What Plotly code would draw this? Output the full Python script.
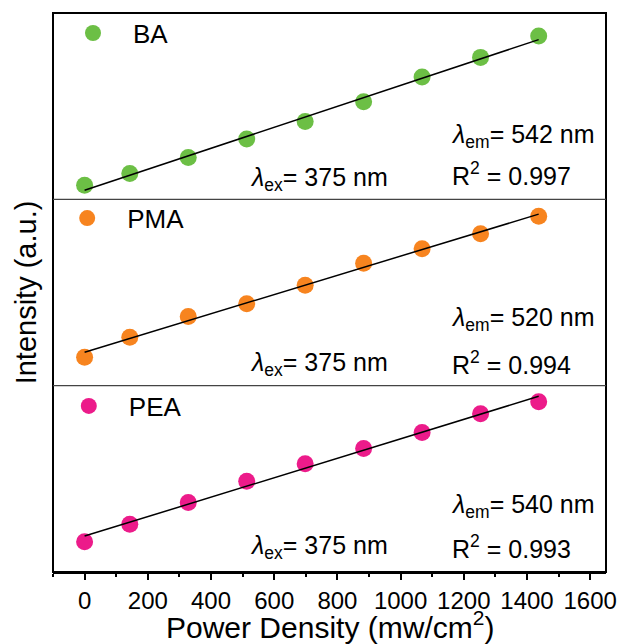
import numpy as np
import plotly.graph_objects as go
from plotly.subplots import make_subplots

# ---------------- data ----------------
power_density = [0, 143, 328, 513, 698, 883, 1068, 1253, 1437]
intensity_BA = [14, 25.7, 41.7, 60.3, 77.7, 97.3, 122, 141.7, 163]
intensity_PMA = [28.3, 48.3, 69, 81.7, 100.3, 122.3, 136.7, 151.7, 169]
intensity_PEA = [30.3, 47.7, 69.3, 90.7, 108, 123.3, 139.3, 158, 170]
series_names = ["BA", "PMA", "PEA"]
series_colors = ["#6cbf45", "#f7841f", "#ec1b8a"]
lambda_em = [542, 520, 540]
lambda_ex = [375, 375, 375]
r_squared = ["0.997", "0.994", "0.993"]
x_ticks = [0, 200, 400, 600, 800, 1000, 1200, 1400, 1600]
x_title = "Power Density (mw/cm<sup>2</sup>)"
y_title = "Intensity (a.u.)"

series = [intensity_BA, intensity_PMA, intensity_PEA]
FONT = "Liberation Sans, Arial, sans-serif"

fig = make_subplots(rows=3, cols=1, shared_xaxes=True, vertical_spacing=0)

legend_names = ["legend", "legend2", "legend3"]
legend_y = [0.964, 0.633, 0.297]
legend_x = [0.0, -0.0105, -0.0076]
for i, (name, vals, col) in enumerate(zip(series_names, series, series_colors)):
    r = i + 1
    fig.add_trace(go.Scatter(x=power_density, y=vals, mode="markers", name=name,
                             marker=dict(color=col, size=17, line=dict(width=0)),
                             legend=legend_names[i], showlegend=True), row=r, col=1)
    k, b = np.polyfit(power_density, vals, 1)
    xf = [power_density[0], power_density[-1]]
    yf = [k * xv + b for xv in xf]
    fig.add_trace(go.Scatter(x=xf, y=yf, mode="lines", line=dict(color="black", width=1.5),
                             showlegend=False, hoverinfo="skip"), row=r, col=1)

# legends
for i, ln in enumerate(legend_names):
    fig.update_layout(**{ln: dict(x=legend_x[i], xanchor="left", y=legend_y[i], yanchor="middle",
                                   bgcolor="rgba(0,0,0,0)", borderwidth=0, itemwidth=70,
                                   font=dict(family=FONT, size=26, color="black"))})

# y axes
for r in (1, 2, 3):
    fig.update_yaxes(range=[0, 186], showticklabels=False, ticks="", showgrid=False,
                     zeroline=False, showline=False, row=r, col=1)

fig.update_xaxes(range=[-100, 1650], showgrid=False, zeroline=False, showline=False)
fig.update_xaxes(row=3, col=1, ticks="outside", ticklen=6, tickwidth=2, tickcolor="black",
                 tickvals=x_ticks, ticktext=[str(t) for t in x_ticks],
                 tickfont=dict(family=FONT, size=24, color="black"),
                 minor=dict(ticks="outside", ticklen=3, tickwidth=2, tickcolor="black", dtick=100, tick0=0),
                 showline=True, linecolor="black", linewidth=2, automargin=True)
fig.update_yaxes(row=2, col=1, automargin=True,
                 title=dict(text=y_title, standoff=6,
                            font=dict(family=FONT, size=29, color="black")))

# x-axis title (placed as paper annotation for exact positioning)
fig.add_annotation(x=0.5, y=-0.095, xref="paper", yref="paper", xanchor="center", yanchor="middle",
                   text=x_title, showarrow=False,
                   font=dict(family=FONT, size=30, color="black"))

# frame and separators
fig.add_shape(type="rect", xref="paper", yref="paper", x0=0, x1=1, y0=0, y1=1,
              line=dict(color="black", width=2), layer="above")
for yy in (1 / 3, 2 / 3):
    fig.add_shape(type="line", xref="paper", yref="paper", x0=0, x1=1, y0=yy, y1=yy,
                  line=dict(color="#444444", width=1.2), layer="above")

# annotations
ex_y = [20.5, 22, 24.5]
em_y = [63.7, 66.7, 66]
r2_y = [25, 23, 25]
for i in range(3):
    yref = "y" if i == 0 else f"y{i+1}"
    fig.add_annotation(x=517, y=ex_y[i], xref="x", yref=yref, xanchor="left", yanchor="middle",
                       text=f"<i>λ</i><sub>ex</sub>= {lambda_ex[i]} nm", showarrow=False,
                       font=dict(family=FONT, size=25, color="black"))
    fig.add_annotation(x=1153, y=em_y[i], xref="x", yref=yref, xanchor="left", yanchor="middle",
                       text=f"<i>λ</i><sub>em</sub>= {lambda_em[i]} nm", showarrow=False,
                       font=dict(family=FONT, size=25, color="black"))
    fig.add_annotation(x=1157, y=r2_y[i], xref="x", yref=yref, xanchor="left", yanchor="middle",
                       text=f"R<sup>2</sup> = {r_squared[i]}", showarrow=False,
                       font=dict(family=FONT, size=25, color="black"))

fig.update_layout(width=618, height=644,
                  margin=dict(l=53, r=12, t=13, b=72, autoexpand=False),
                  plot_bgcolor="white", paper_bgcolor="white",
                  font=dict(family=FONT, color="black"))

fig.write_html("out.html")
